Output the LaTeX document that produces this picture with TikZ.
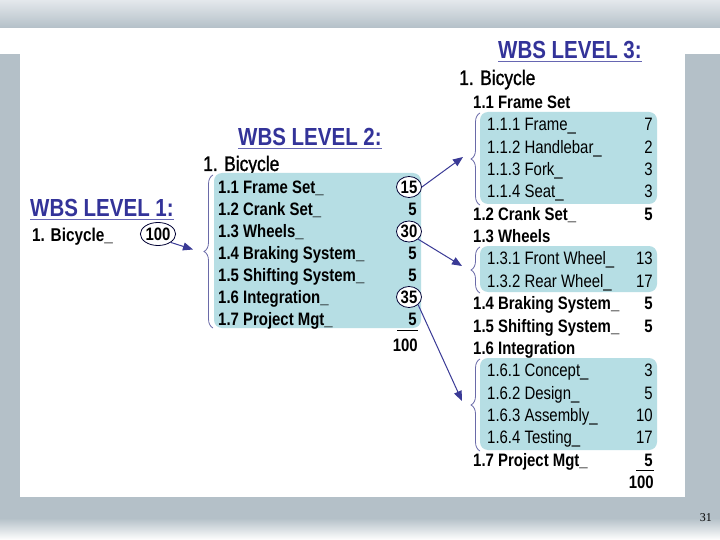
\documentclass[tikz,border=0pt]{standalone}
\usepackage{fontspec}
\setmainfont{Liberation Sans}[FakeStretch=0.83]
\newfontfamily\medfont{Liberation Sans}[FakeStretch=0.83,FakeBold=1.2]
\newfontfamily\pgnumfont{Liberation Serif}
\usetikzlibrary{shapes.geometric,decorations.pathreplacing,arrows.meta}
\definecolor{slidegray}{HTML}{B4C0C8}
\definecolor{slidelight}{HTML}{E4E8EC}
\definecolor{titleblue}{HTML}{333399}
\definecolor{boxteal}{HTML}{B6DEE4}
\definecolor{bracecol}{HTML}{6A6AA8}
\definecolor{arrowblue}{HTML}{3A3A96}
\begin{document}
\begin{tikzpicture}[x=1pt,y=-1pt,
  titletext/.style={anchor=base west,inner sep=0,text=titleblue,font=\fontsize{24.7}{26}\selectfont\bfseries},
  uline/.style={draw=titleblue!75,line width=1pt},
  bigitem/.style={anchor=base west,inner sep=0,font=\medfont\fontsize{21}{23}\selectfont},
  bolditem/.style={anchor=base west,inner sep=0,font=\fontsize{18}{20}\selectfont\bfseries},
  boldnum/.style={anchor=base east,inner sep=0,font=\fontsize{18}{20}\selectfont\bfseries},
  subitem/.style={anchor=base west,inner sep=0,font=\fontsize{18}{20}\selectfont},
  subnum/.style={anchor=base east,inner sep=0,font=\fontsize{18}{20}\selectfont},
  tealbox/.style={fill=boxteal,rounded corners=8pt},
  circnum/.style={ellipse,draw=black!80!blue,line width=0.8pt,fill=white,inner sep=0,minimum width=25pt,minimum height=21pt,font=\fontsize{18}{20}\selectfont\bfseries},
  bracestyle/.style={draw=bracecol,line width=0.8pt,decorate,decoration={brace,amplitude=9pt,aspect=0.5}},
  arr/.style={draw=arrowblue,line width=1pt,-{Triangle[length=10pt,width=8pt]}},
  sumline/.style={draw=black,line width=1pt}
]
\useasboundingbox (0,0) rectangle (720,540);
% slide frame
\fill[white] (0,0) rectangle (720,540);
\shade[top color=slidelight,bottom color=slidegray] (0,0) rectangle (720,28);
\fill[slidegray] (0,54) rectangle (20,497);
\fill[slidegray] (685,54) rectangle (720,497);
\fill[slidegray] (0,497) rectangle (720,518);
\shade[top color=slidegray,bottom color=white] (0,518) rectangle (720,540);
\node[anchor=base east,inner sep=0,font=\pgnumfont\fontsize{12}{13}\selectfont] (pg) at (712,521) {31};

% ===== Level 1 =====
\node[titletext] (t1) at (30,216.5) {WBS LEVEL 1:};
\draw[uline] ([yshift=-3pt]t1.base west) -- ([yshift=-3pt]t1.base east);
\node[bolditem,font=\fontsize{18.5}{20}\selectfont\bfseries] (l1) at (32,241) {1. Bicycle\_};
\node[circnum,minimum width=29pt,minimum height=23pt] (c100) at (158,234) {100};

% ===== Level 2 =====
\node[titletext] (t2) at (238,145.5) {WBS LEVEL 2:};
\draw[uline] ([yshift=-3pt]t2.base west) -- ([yshift=-3pt]t2.base east);
\node[bigitem] (b2) at (203,171) {1. Bicycle};
\fill[tealbox] (214,173) rectangle (421,328);
\draw[bracestyle] (213,328) -- (213,175);
\coordinate (b2tip) at (204,251.5);
\coordinate (a1end) at (193,249.5);

\node[bolditem] (r21) at (218,194) {1.1 Frame Set\_};
\node[bolditem] (r22) at (218,215.8) {1.2 Crank Set\_};
\node[bolditem] (r23) at (218,237.7) {1.3 Wheels\_};
\node[bolditem] (r24) at (218,259.5) {1.4 Braking System\_};
\node[bolditem] (r25) at (218,281.3) {1.5 Shifting System\_};
\node[bolditem] (r26) at (218,303.2) {1.6 Integration\_};
\node[bolditem] (r27) at (218,325) {1.7 Project Mgt\_};
\node[circnum] (c15) at (409,187) {15};
\node[boldnum] (n22) at (417,215.8) {5};
\node[circnum] (c30) at (409,231.5) {30};
\node[boldnum] (n24) at (417,259.5) {5};
\node[boldnum] (n25) at (417,281.3) {5};
\node[circnum] (c35) at (409,297) {35};
\node[boldnum] (n27) at (417,325) {5};
\draw[sumline] (397,330.5) -- (418,330.5);
\node[boldnum] (s2) at (418,351) {100};

% ===== Level 3 =====
\node[titletext] (t3) at (498,58.5) {WBS LEVEL 3:};
\draw[uline] ([yshift=-3pt]t3.base west) -- ([yshift=-3pt]t3.base east);
\node[bigitem] (b3) at (459,85) {1. Bicycle};
\node[bolditem] (r31) at (473,108.5) {1.1 Frame Set};

\fill[tealbox] (480,112) rectangle (657,204);
\draw[bracestyle] (480,205) -- (480,113);
\coordinate (b31tip) at (469,159);
\node[subitem] (s311) at (487,130.85) {1.1.1 Frame\_};
\node[subitem] (s312) at (487,153.2) {1.1.2 Handlebar\_};
\node[subitem] (s313) at (487,175.55) {1.1.3 Fork\_};
\node[subitem] (s314) at (487,197.9) {1.1.4 Seat\_};
\node[subnum] (v311) at (653,130.85) {7};
\node[subnum] (v312) at (653,153.2) {2};
\node[subnum] (v313) at (653,175.55) {3};
\node[subnum] (v314) at (653,197.9) {3};

\node[bolditem] (r32) at (473,220.25) {1.2 Crank Set\_};
\node[boldnum] (v32) at (653,220.25) {5};
\node[bolditem] (r33) at (473,242.6) {1.3 Wheels};

\fill[tealbox] (480,246) rectangle (657,292);
\draw[bracestyle] (480,293) -- (480,247);
\coordinate (b32tip) at (469,270);
\node[subitem] (s331) at (487,264.95) {1.3.1 Front Wheel\_};
\node[subitem] (s332) at (487,287.3) {1.3.2 Rear Wheel\_};
\node[subnum] (v331) at (653,264.95) {13};
\node[subnum] (v332) at (653,287.3) {17};

\node[bolditem] (r34) at (473,309.65) {1.4 Braking System\_};
\node[boldnum] (v34) at (653,309.65) {5};
\node[bolditem] (r35) at (473,332) {1.5 Shifting System\_};
\node[boldnum] (v35) at (653,332) {5};
\node[bolditem] (r36) at (473,354.35) {1.6 Integration};

\fill[tealbox] (480,358) rectangle (657,450);
\draw[bracestyle] (480,451) -- (480,359);
\coordinate (b33tip) at (469,405);
\node[subitem] (s361) at (487,376.7) {1.6.1 Concept\_};
\node[subitem] (s362) at (487,399.05) {1.6.2 Design\_};
\node[subitem] (s363) at (487,421.4) {1.6.3 Assembly\_};
\node[subitem] (s364) at (487,443.75) {1.6.4 Testing\_};
\node[subnum] (v361) at (653,376.7) {3};
\node[subnum] (v362) at (653,399.05) {5};
\node[subnum] (v363) at (653,421.4) {10};
\node[subnum] (v364) at (653,443.75) {17};

\node[bolditem] (r37) at (473,466.1) {1.7 Project Mgt\_};
\node[boldnum] (v37) at (653,466.1) {5};
\draw[sumline] (636,470) -- (654,470);
\node[boldnum] (s3) at (654,488.5) {100};

% ===== arrows =====
\coordinate (a2end) at (463,157);
\coordinate (a3end) at (462,266);
\coordinate (a4end) at (462,401);
\draw[arr] (c100.south east) -- (a1end);
\draw[arr] (c15.east) -- (a2end);
\draw[arr] (c30.south east) -- (a3end);
\draw[arr] (c35.south east) -- (a4end);
\end{tikzpicture}
\end{document}
